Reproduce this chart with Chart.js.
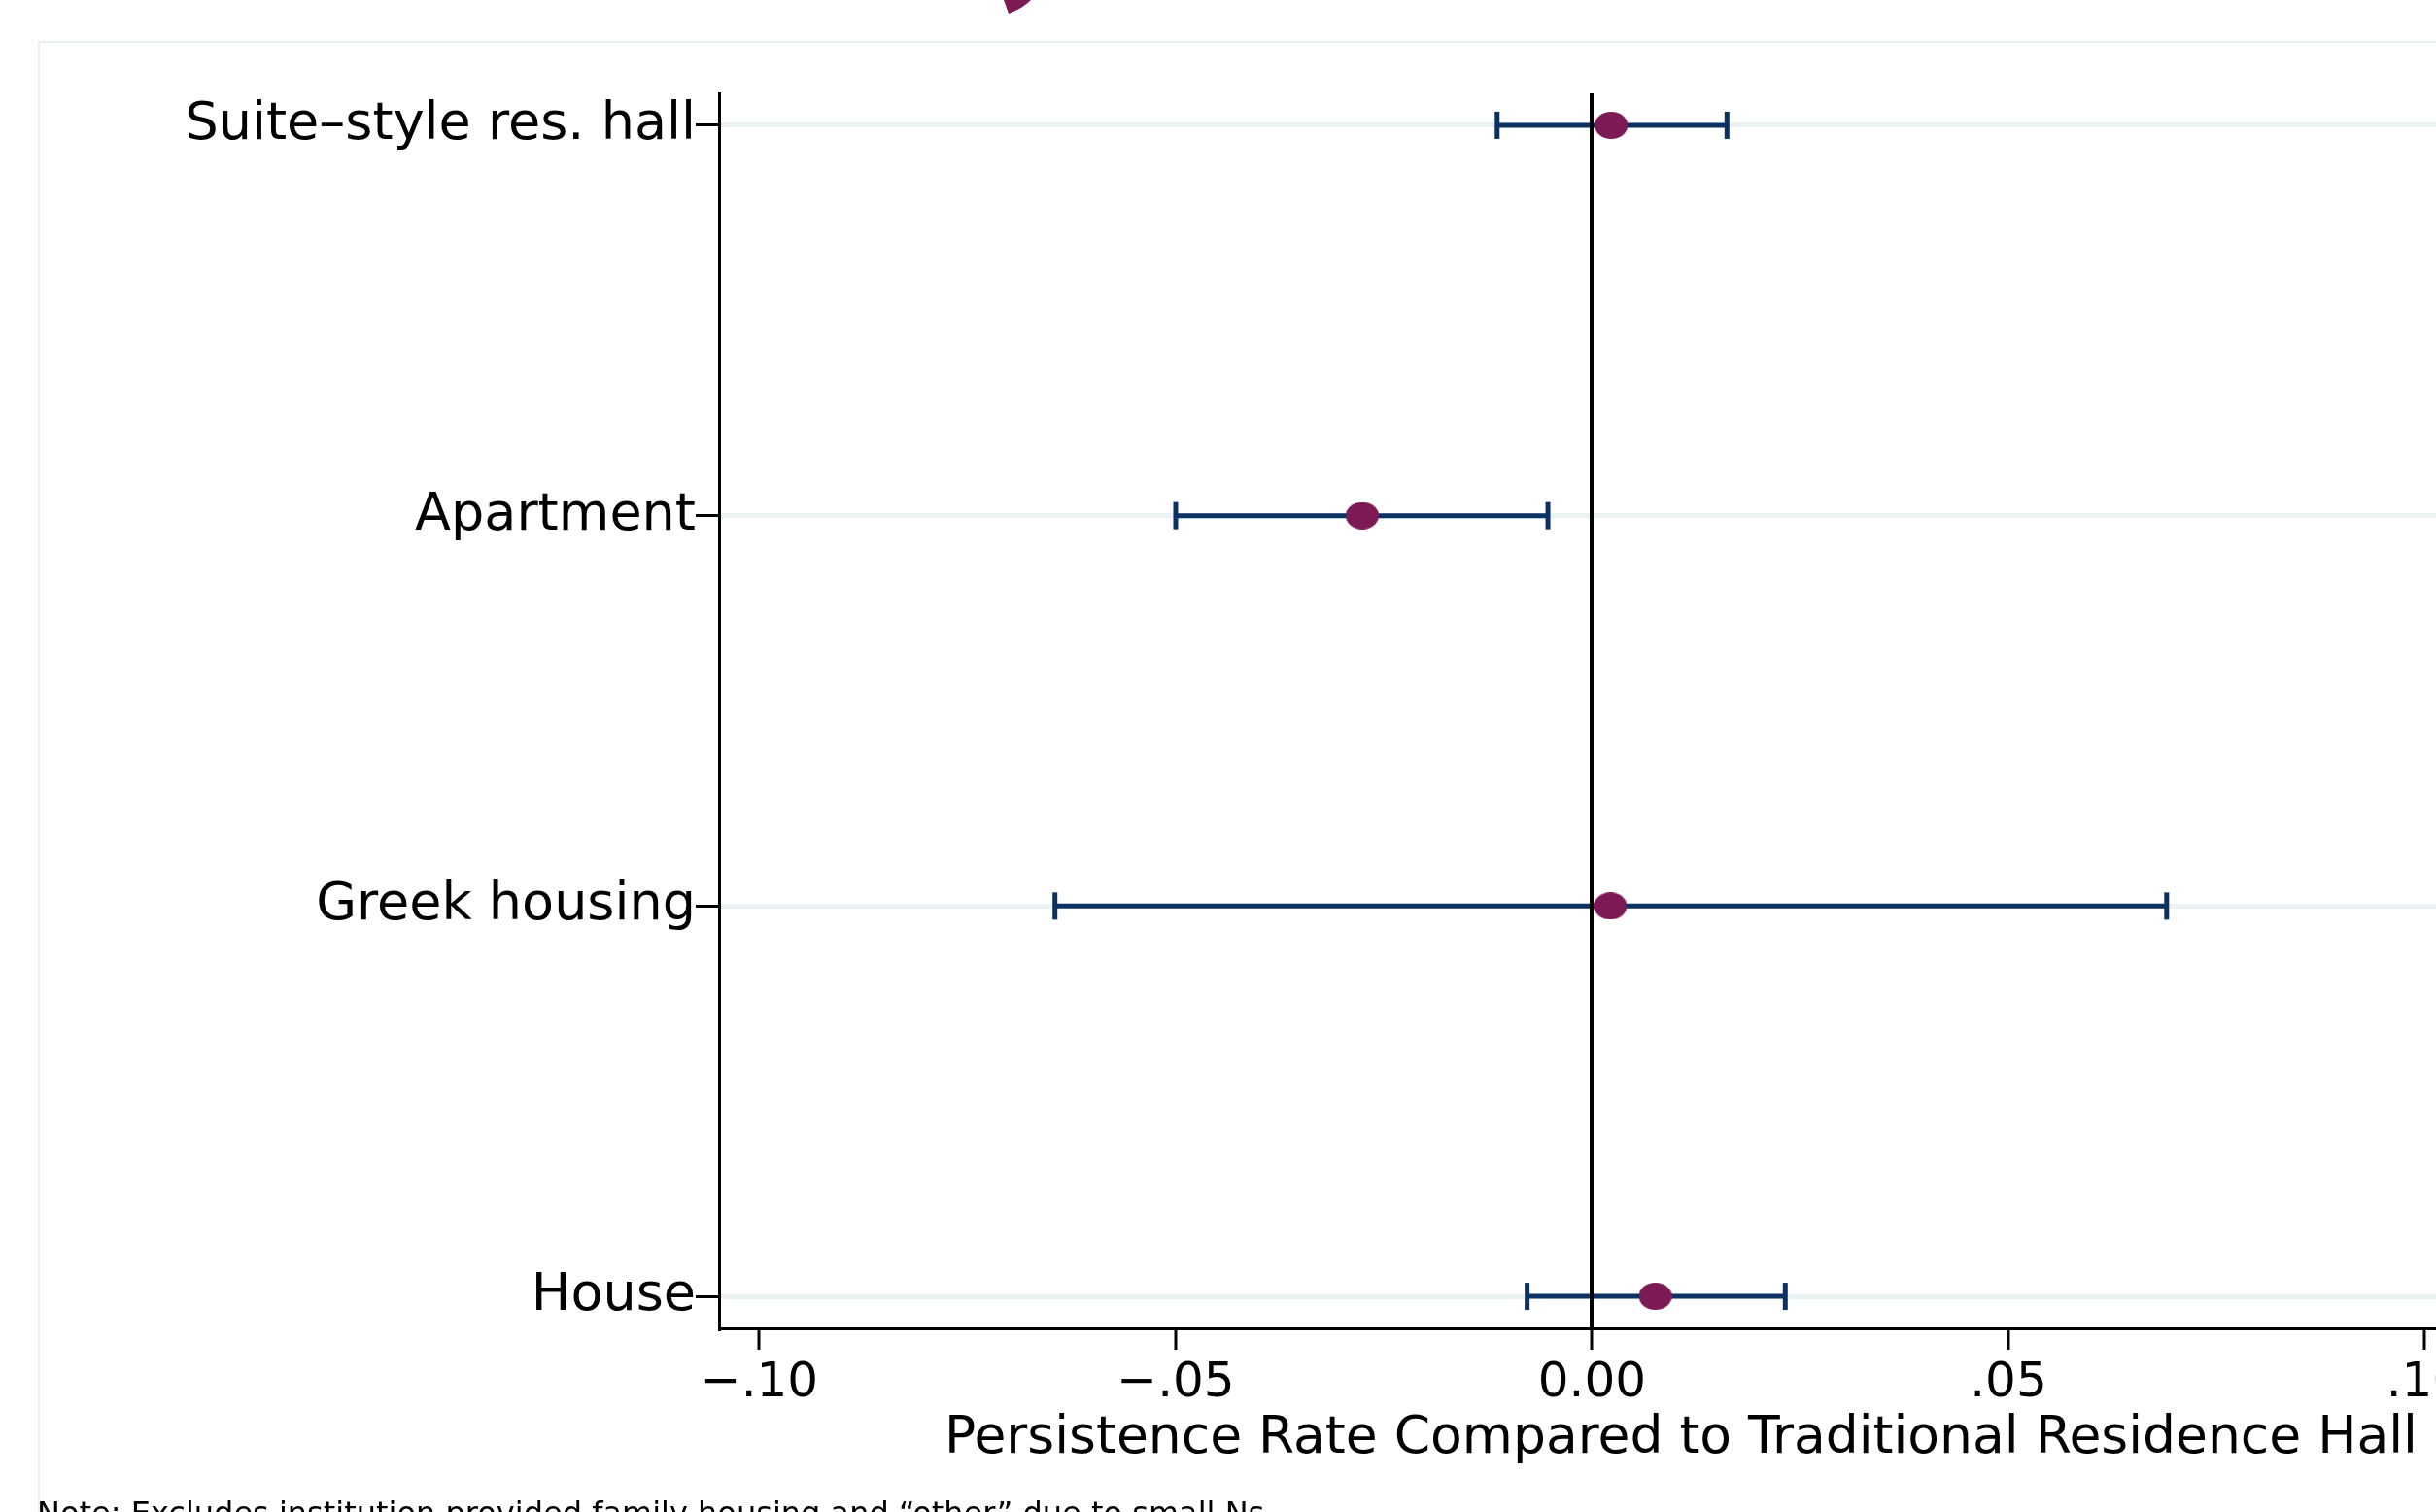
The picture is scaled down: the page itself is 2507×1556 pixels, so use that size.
<!DOCTYPE html>
<html>
<head>
<meta charset="utf-8">
<script src="https://cdn.jsdelivr.net/npm/chart.js@4/dist/chart.umd.min.js"></script>
<style>
  html, body { margin: 0; padding: 0; background: #fff; overflow: hidden; }
  #wrap { width: 2507px; height: 1556px; overflow: hidden; position: relative; }
  canvas { display: block; }
</style>
</head>
<body>
<div id="wrap"><canvas id="c" width="2800" height="1556"></canvas></div>
<script>
// Housing types (top to bottom), point estimates and 95% confidence bounds
const categories = ['Suite\u2013style res. hall', 'Apartment', 'Greek housing', 'House'];
const estimates  = [0.0023, -0.0276, 0.0022, 0.0076];
const lowerCI    = [-0.0114, -0.0500, -0.0645, -0.0078];
const upperCI    = [0.0162, -0.0053, 0.0690, 0.0232];

// Horizontal axis ticks
const tickValues = [-0.10, -0.05, 0, 0.05, 0.10];
const tickLabels = ['\u2212.10', '\u2212.05', '0.00', '.05', '.10'];

const xTitle = 'Persistence Rate Compared to Traditional Residence Hall';
const noteText = 'Note: Excludes institution provided family housing and \u201cother\u201d due to small Ns.';

const FONT = '"DejaVu Sans", "Open Sans", sans-serif';
const NAVY = '#0b3162';
const PLUM = '#7b1a54';

// Elliptical marker for the point estimates
function ellipseMarker(w, h, color) {
  const cv = document.createElement('canvas');
  cv.width = w; cv.height = h;
  const g = cv.getContext('2d');
  g.fillStyle = color;
  g.beginPath();
  g.ellipse(w / 2, h / 2, w / 2, h / 2, 0, 0, Math.PI * 2);
  g.fill();
  return cv;
}

// Outer graph-region frame, the note line and the partial emblem above the frame
const framePlugin = {
  id: 'frame',
  beforeDraw(chart) {
    const ctx = chart.ctx;
    ctx.save();
    ctx.strokeStyle = '#e8f0f0';
    ctx.lineWidth = 2;
    ctx.strokeRect(40, 43, 3000, 3000);
    ctx.fillStyle = PLUM;
    ctx.beginPath();
    ctx.moveTo(1033, 0);
    ctx.lineTo(1038, 14);
    ctx.quadraticCurveTo(1052, 9, 1061, 0);
    ctx.closePath();
    ctx.fill();
    ctx.restore();
  },
  afterDraw(chart) {
    const ctx = chart.ctx;
    ctx.save();
    ctx.fillStyle = '#000';
    ctx.font = '32px ' + FONT;
    ctx.textBaseline = 'alphabetic';
    ctx.textAlign = 'left';
    ctx.fillText(noteText, 38, 1568);
    ctx.restore();
  }
};

function build() {
  const rows = categories.map((_, i) => i + 1);

  const datasets = [{
    type: 'scatter',
    label: 'Estimate',
    data: rows.map((y, i) => ({ x: estimates[i], y })),
    pointStyle: ellipseMarker(34, 28, PLUM),
    pointRadius: 14,
    showLine: false,
    order: 0
  }];

  rows.forEach((y, i) => {
    datasets.push({
      type: 'line',
      label: categories[i] + ' CI',
      data: [{ x: lowerCI[i], y }, { x: upperCI[i], y }],
      borderColor: NAVY,
      borderWidth: 5,
      pointStyle: 'line',
      rotation: 90,
      pointRadius: 14,
      pointBorderWidth: 5,
      pointBorderColor: NAVY,
      pointBackgroundColor: NAVY,
      fill: false,
      order: 1
    });
  });

  new Chart(document.getElementById('c'), {
    data: { datasets },
    options: {
      responsive: false,
      devicePixelRatio: 1,
      animation: false,
      events: [],
      layout: { padding: { top: 96, right: 80, left: 0, bottom: 0 } },
      plugins: { legend: { display: false }, tooltip: { enabled: false } },
      scales: {
        x: {
          type: 'linear',
          position: 'bottom',
          min: -0.10484,
          max: 0.1262,
          afterBuildTicks: s => { s.ticks = tickValues.map(v => ({ value: v })); },
          afterFit: s => { s.height = 189; },
          ticks: {
            autoSkip: false,
            maxRotation: 0,
            padding: 5,
            color: '#000',
            font: { family: FONT, size: 50 },
            callback: v => {
              const k = tickValues.findIndex(t => Math.abs(t - v) < 1e-9);
              return k >= 0 ? tickLabels[k] : '';
            }
          },
          grid: {
            z: 1,
            drawTicks: true,
            tickLength: 22,
            tickWidth: 3,
            tickColor: '#000',
            color: c => (c.tick && Math.abs(c.tick.value) < 1e-9) ? '#000' : 'rgba(0,0,0,0)',
            lineWidth: c => (c.tick && Math.abs(c.tick.value) < 1e-9) ? 4 : 0
          },
          border: { display: true, color: '#000', width: 3, z: 2 },
          title: {
            display: true,
            text: xTitle,
            color: '#000',
            font: { family: FONT, size: 53.5 },
            padding: { top: 0, bottom: 43 }
          }
        },
        y: {
          type: 'linear',
          position: 'left',
          reverse: true,
          min: 0.918,
          max: 4.082,
          afterBuildTicks: s => { s.ticks = rows.map(v => ({ value: v })); },
          afterFit: s => { s.width = 740; },
          ticks: {
            autoSkip: false,
            padding: 0,
            color: '#000',
            font: { family: FONT, size: 54 },
            callback: v => categories[Math.round(v) - 1] || ''
          },
          grid: {
            drawTicks: true,
            tickLength: 24,
            tickWidth: 3,
            tickColor: '#000',
            color: '#eaf2f3',
            lineWidth: 5
          },
          border: { display: true, color: '#000', width: 3 }
        }
      }
    },
    plugins: [framePlugin]
  });
}

Promise.all([
  document.fonts.load('50px "DejaVu Sans"')
]).then(build, build);
</script>
</body>
</html>
